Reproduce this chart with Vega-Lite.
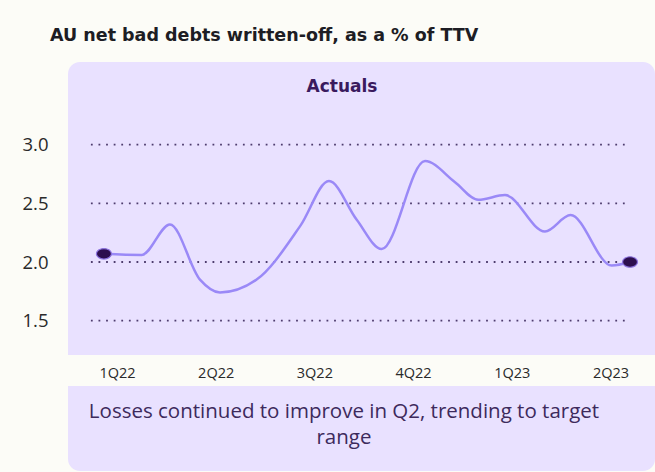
{
  "$schema": "https://vega.github.io/schema/vega-lite/v6.json",
  "width": 587,
  "height": 409,
  "autosize": {"type": "none"},
  "padding": {"left": 68, "top": 62, "right": 0, "bottom": 1},
  "background": "#fcfcf7",
  "view": {"stroke": null},
  "title": {
    "text": "AU net bad debts written-off, as a % of TTV",
    "anchor": "start",
    "frame": "group",
    "dx": -18,
    "offset": 18,
    "font": "DejaVu Sans",
    "fontSize": 17.5,
    "fontWeight": "bold",
    "color": "#1d1d24"
  },
  "datasets": {
    "series": [
      {"quarter": -0.132, "pct": 2.07},
      {"quarter": 0.25, "pct": 2.06},
      {"quarter": 0.537, "pct": 2.32},
      {"quarter": 0.841, "pct": 1.85},
      {"quarter": 1.044, "pct": 1.74},
      {"quarter": 1.415, "pct": 1.85},
      {"quarter": 1.859, "pct": 2.31},
      {"quarter": 2.148, "pct": 2.69},
      {"quarter": 2.429, "pct": 2.36},
      {"quarter": 2.682, "pct": 2.11},
      {"quarter": 3.121, "pct": 2.86},
      {"quarter": 3.425, "pct": 2.68},
      {"quarter": 3.661, "pct": 2.53},
      {"quarter": 3.931, "pct": 2.57},
      {"quarter": 4.336, "pct": 2.26},
      {"quarter": 4.595, "pct": 2.4},
      {"quarter": 5.012, "pct": 1.97},
      {"quarter": 5.198, "pct": 2.0}
    ],
    "grid": [{"level": 1.5}, {"level": 2.0}, {"level": 2.5}, {"level": 3.0}],
    "header": [{"label": "Actuals"}],
    "note": [{"label": "Losses continued to improve in Q2, trending to target\nrange"}]
  },
  "layer": [
    {
      "data": {"values": [{}]},
      "mark": {"type": "rect", "color": "#e9e1ff", "cornerRadiusTopLeft": 12, "cornerRadiusTopRight": 12},
      "encoding": {
        "x": {
          "datum": -0.496,
          "type": "quantitative",
          "scale": {"domain": [-0.496, 5.451], "nice": false, "zero": false},
          "title": null,
          "axis": {
            "title": null,
            "values": [0, 1, 2, 3, 4, 5],
            "labelExpr": "['1Q22','2Q22','3Q22','4Q22','1Q23','2Q23'][datum.value]",
            "ticks": false,
            "domain": false,
            "grid": false,
            "offset": -98,
            "labelPadding": 0,
            "labelBaseline": "middle",
            "labelFont": "Open Sans",
            "labelFontSize": 14.5,
            "labelColor": "#2a2a2a",
            "zindex": 1
          }
        },
        "x2": {"datum": 5.451},
        "y": {
          "datum": 3.7046,
          "type": "quantitative",
          "scale": {"domain": [0.2187, 3.7046], "nice": false, "zero": false},
          "title": null,
          "axis": {
            "title": null,
            "values": [1.5, 2, 2.5, 3],
            "format": ".1f",
            "ticks": false,
            "domain": false,
            "grid": false,
            "labelPadding": 20,
            "labelFont": "Open Sans",
            "labelFontSize": 18.5,
            "labelColor": "#2a2a2a",
            "zindex": 1
          }
        },
        "y2": {"datum": 1.2074}
      }
    },
    {
      "data": {"values": [{}]},
      "mark": {"type": "rect", "color": "#e9e1ff", "cornerRadiusBottomLeft": 12, "cornerRadiusBottomRight": 12},
      "encoding": {
        "x": {"datum": -0.496, "type": "quantitative"},
        "x2": {"datum": 5.451},
        "y": {"datum": 0.9432, "type": "quantitative"},
        "y2": {"datum": 0.2187}
      }
    },
    {
      "data": {"name": "grid"},
      "mark": {"type": "rule", "color": "#4e3d6e", "strokeWidth": 1.8, "strokeDash": [1.8, 5.8]},
      "encoding": {
        "x": {"datum": -0.264, "type": "quantitative"},
        "x2": {"datum": 5.157},
        "y": {"field": "level", "type": "quantitative"}
      }
    },
    {
      "data": {"name": "series"},
      "mark": {"type": "line", "interpolate": "monotone", "color": "#9a89f7", "strokeWidth": 2.5},
      "encoding": {
        "x": {"field": "quarter", "type": "quantitative"},
        "y": {"field": "pct", "type": "quantitative"}
      }
    },
    {
      "data": {"name": "series"},
      "transform": [{"filter": "datum.quarter < 0 || datum.quarter > 5.1"}],
      "mark": {
        "type": "point",
        "shape": "M-1,0A1,0.7,0,1,1,1,0A1,0.7,0,1,1,-1,0Z",
        "size": 225,
        "filled": true,
        "fill": "#2d0f4f",
        "stroke": "#8d74e0",
        "strokeWidth": 1.2,
        "opacity": 1
      },
      "encoding": {
        "x": {"field": "quarter", "type": "quantitative"},
        "y": {"field": "pct", "type": "quantitative"}
      }
    },
    {
      "data": {"name": "header"},
      "mark": {"type": "text", "font": "DejaVu Sans", "fontSize": 17, "fontWeight": "bold", "color": "#3a1a5e", "align": "center", "baseline": "middle"},
      "encoding": {
        "x": {"datum": 2.28, "type": "quantitative"},
        "y": {"datum": 3.49, "type": "quantitative"},
        "text": {"field": "label"}
      }
    },
    {
      "data": {"name": "note"},
      "mark": {"type": "text", "font": "Open Sans", "fontSize": 20.5, "color": "#3d2a5c", "align": "center", "baseline": "middle", "lineBreak": "\n", "lineHeight": 26},
      "encoding": {
        "x": {"datum": 2.3, "type": "quantitative"},
        "y": {"datum": 0.7216, "type": "quantitative"},
        "text": {"field": "label"}
      }
    }
  ]
}
